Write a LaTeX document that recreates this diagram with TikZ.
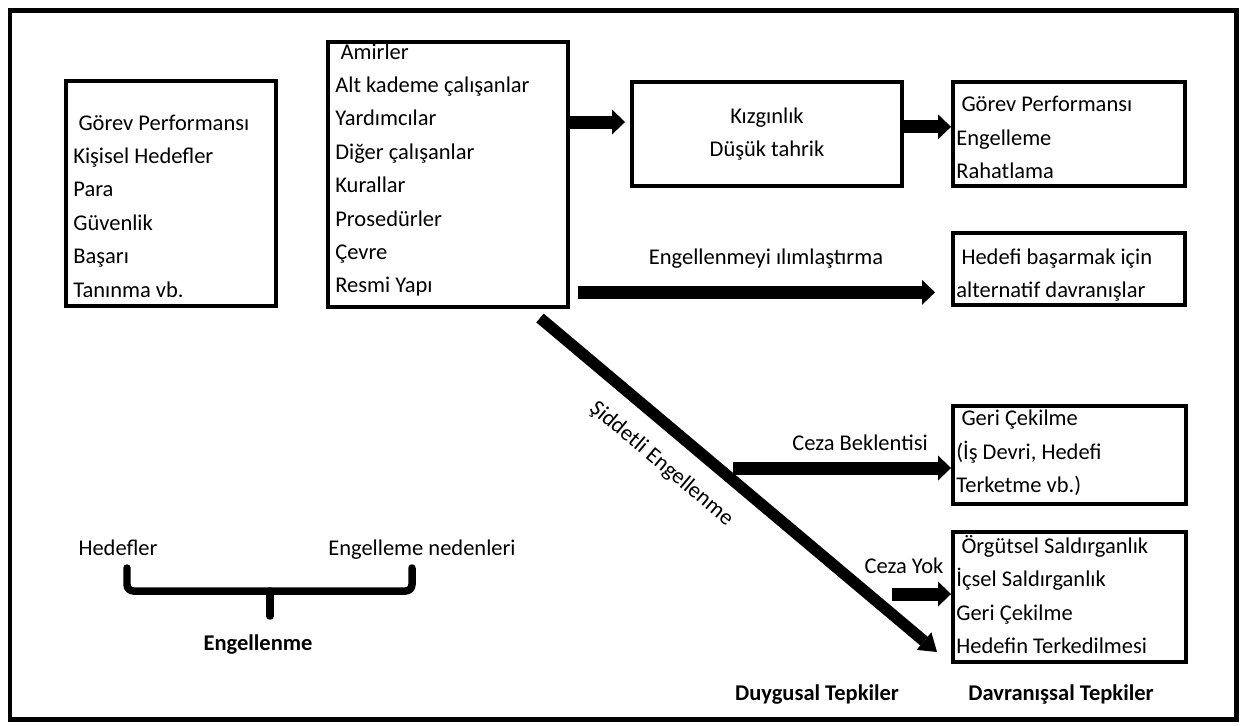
\documentclass[tikz,border=0pt]{standalone}
\usepackage{fontspec}
\setmainfont{Carlito}
\usetikzlibrary{arrows.meta}

\newcommand{\figfont}{\fontsize{12.8}{19}\selectfont}

\tikzset{
  box/.style={draw, line width=0.08cm, inner sep=0pt},
  list/.style={align=left, anchor=west, inner sep=0pt},
  lbl/.style={inner sep=0pt, anchor=base},
  head/.style={inner sep=0pt, anchor=base, font=\figfont\bfseries},
  fat/.style={line width=0.26cm, -{Triangle[length=0.26cm, width=0.5cm, line width=0pt]}},
  slash/.style={line width=0.23cm, -{Triangle[length=0.34cm, width=0.46cm, line width=0pt]}},
  bracket/.style={line width=0.15cm, rounded corners=0.13cm, line cap=round},
}

\begin{document}
\begin{tikzpicture}[x=0.02cm, y=-0.02cm, font=\figfont]

    \useasboundingbox (0,0) rectangle (1242,725) ; %
    \draw[line width=0.1cm] (10,10) rectangle (1236,719) ; %

    % hedefler ve engelleme nedenleri
    \node[list] (goals_list) at (73,206) {\hspace*{.23em}Görev Performansı\\Kişisel Hedefler\\Para\\Güvenlik\\Başarı\\Tanınma vb.} ; %
    \node[list] (causes_list) at (335,170) {\hspace*{.23em}Amirler\\Alt kademe çalışanlar\\Yardımcılar\\Diğer çalışanlar\\Kurallar\\Prosedürler\\Çevre\\Resmi Yapı} ; %
    \node[box, minimum width=4.2cm, minimum height=4.5cm] (goals) at (171,193.5) {} ; %
    \node[box, minimum width=4.8cm, minimum height=5.3cm] (causes) at (448,174.5) {} ; %

    % duygusal tepki
    \node[box, minimum width=5.4cm, minimum height=2.08cm, align=center] (anger) at (767,134) {Kızgınlık\\Düşük tahrik} ; %

    % davranissal tepkiler
    \node[list] (perf_list) at (956,137.5) {\hspace*{.23em}Görev Performansı\\Engelleme\\Rahatlama} ; %
    \node[list] (alt_list) at (956,275) {\hspace*{.23em}Hedefi başarmak için\\alternatif davranışlar} ; %
    \node[list] (withdraw_list) at (956,453) {\hspace*{.23em}Geri Çekilme\\(İş Devri, Hedefi\\Terketme vb.)} ; %
    \node[list] (aggr_list) at (956,594.5) {\hspace*{.23em}Örgütsel Saldırganlık\\İçsel Saldırganlık\\Geri Çekilme\\Hedefin Terkedilmesi} ; %
    \node[box, minimum width=4.64cm, minimum height=2.08cm] (perf) at (1069,134) {} ; %
    \node[box, minimum width=4.64cm, minimum height=1.44cm] (alt) at (1069,269) {} ; %
    \node[box, minimum width=4.66cm, minimum height=1.96cm] (withdraw) at (1069.5,455) {} ; %
    \node[box, minimum width=4.66cm, minimum height=2.6cm] (aggr) at (1069.5,597) {} ; %

    % etiketler
    \node[lbl] (soften_lbl) at (766,264) {Engellenmeyi ılımlaştırma} ; %
    \node[lbl] (pun_lbl) at (860,450) {Ceza Beklentisi} ; %
    \node[lbl] (nopun_lbl) at (904,573) {Ceza Yok} ; %
    \node[lbl] (goal_lbl) at (118,555) {Hedefler} ; %
    \node[lbl] (cause_lbl) at (422,555) {Engelleme nedenleri} ; %
    \node[head] (frus_lbl) at (258,650) {Engellenme} ; %
    \node[head] (emo_lbl) at (817,700) {Duygusal Tepkiler} ; %
    \node[head] (beh_lbl) at (1061,700) {Davranışsal Tepkiler} ; %

    \coordinate (pun_start) at (733,468) ; %
    \coordinate (nopun_start) at (892,594) ; %
    \coordinate (severe_start) at (540,318) ; %
    \coordinate (severe_end) at (937,652) ; %

    % oklar
    \draw[fat, shorten >=0.1cm] (causes.east |- anger.175) -- (anger.175) ; %
    \draw[fat] (anger.3) -- (anger.3 -| perf.west) ; %
    \draw[fat, shorten <=0.16cm, shorten >=0.32cm] (causes.316) -- (causes.316 -| alt.west) ; %
    \draw[fat] (pun_start) -- (pun_start -| withdraw.west) ; %
    \draw[fat] (nopun_start) -- (nopun_start -| aggr.west) ; %
    \draw[slash] (severe_start) -- (severe_end)
        node[inner sep=0pt, sloped, pos=0.36, below=0.36cm] (severe_lbl) {Şiddetli Engellenme} ; %

    % engellenme parantezi
    \draw[bracket] (127,568) -- (127,591) -- (412,591) -- (412,568) ; %
    \draw[bracket] (270,591) -- (270,616) ; %

\end{tikzpicture}
\end{document}
